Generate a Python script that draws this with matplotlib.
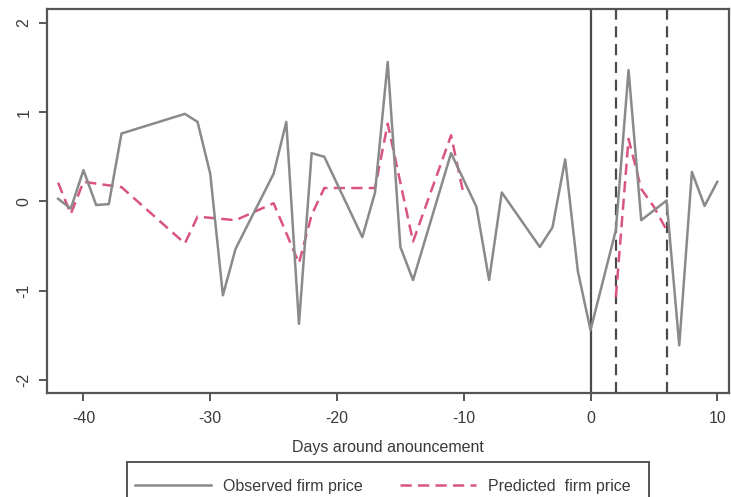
import numpy as np
import matplotlib
matplotlib.use('Agg')
import matplotlib.pyplot as plt
from matplotlib.patches import Rectangle

plt.rcParams['font.family'] = ['Liberation Sans', 'DejaVu Sans']

# dias observados (preço observado)
dias_obs = [-42, -41, -40, -39, -38, -37, -32, -31, -30, -29, -28, -25, -24, -23,
            -22, -21, -18, -17, -16, -15, -14, -11, -9, -8, -7, -4, -3, -2, -1,
            0, 2, 3, 4, 6, 7, 8, 9, 10]
preco_obs = [0.03, -0.08, 0.35, -0.04, -0.03, 0.76, 0.98, 0.89, 0.31, -1.05, -0.53,
             0.31, 0.89, -1.37, 0.54, 0.50, -0.40, 0.10, 1.56, -0.51, -0.88, 0.54,
             -0.06, -0.88, 0.10, -0.51, -0.29, 0.47, -0.78, -1.44, -0.32, 1.47,
             -0.21, 0.01, -1.61, 0.33, -0.05, 0.22]

# preço previsto (com lacuna entre -10 e 2)
dias_prev = [-42, -41, -40, -37, -32, -31, -28, -25, -23, -22, -21, -17, -16, -14,
             -11, -10, -9, 2, 3, 4, 5, 6]
preco_prev = [0.21, -0.14, 0.22, 0.16, -0.47, -0.17, -0.21, -0.02, -0.69, -0.15,
              0.15, 0.15, 0.87, -0.45, 0.74, 0.07, np.nan, -1.07, 0.70, 0.14,
              -0.06, -0.32]

linhas_solidas = [0]
linhas_tracejadas = [2, 6]

xticks = [-40, -30, -20, -10, 0, 10]
yticks = [-2, -1, 0, 1, 2]

cor_texto = '#3a3a3a'
cor_eixo = '#555555'

fig = plt.figure(figsize=(7.31, 4.97), dpi=100)
ax = fig.add_axes([0.0639, 0.2099, 0.9338, 0.7714])

for d in linhas_solidas:
    ax.axvline(d, color='#4a4a4a', linewidth=1.6, zorder=1)
for d in linhas_tracejadas:
    ax.axvline(d, color='#4a4a4a', linewidth=1.6, linestyle=(0, (5, 3)), zorder=1)

ax.plot(dias_obs, preco_obs, color='#8a8a8a', linewidth=1.8,
        label='Observed firm price', zorder=3)
ax.plot(dias_prev, preco_prev, color='#d9557d', linewidth=1.8,
        linestyle=(0, (4.5, 2.5)), label='Predicted  firm price', zorder=2)

ax.set_xlim(-42.9, 10.95)
ax.set_ylim(-2.14, 2.15)
ax.set_xticks(xticks)
ax.set_yticks(yticks)
ax.set_xticklabels([str(t) for t in xticks], fontsize=11.5, color=cor_texto)
ax.set_yticklabels([str(t) for t in yticks], fontsize=11.5, color=cor_texto,
                   rotation=90, va='center')
ax.tick_params(axis='x', length=6, width=1.4, color=cor_eixo, pad=7)
ax.tick_params(axis='y', length=6, width=1.4, color=cor_eixo, pad=5)
for s in ax.spines.values():
    s.set_linewidth(1.6)
    s.set_color(cor_eixo)

ax.set_xlabel('Days around anouncement', fontsize=11.5, color=cor_texto, labelpad=10)

# legenda sem moldura + retângulo cortado pela borda inferior
leg = fig.legend(loc='center left', bbox_to_anchor=(0.184, 0.021), ncol=2,
                 fontsize=11.5, frameon=False, handlelength=4.8,
                 handletextpad=0.75, columnspacing=2.3, borderpad=0,
                 borderaxespad=0)
for t in leg.get_texts():
    t.set_color(cor_texto)
fig.patches.append(Rectangle((0.1733, -0.05), 0.715, 0.1214, transform=fig.transFigure,
                             fill=False, edgecolor=cor_eixo, linewidth=1.4,
                             clip_on=False))

fig.savefig('out.png', dpi=100)
